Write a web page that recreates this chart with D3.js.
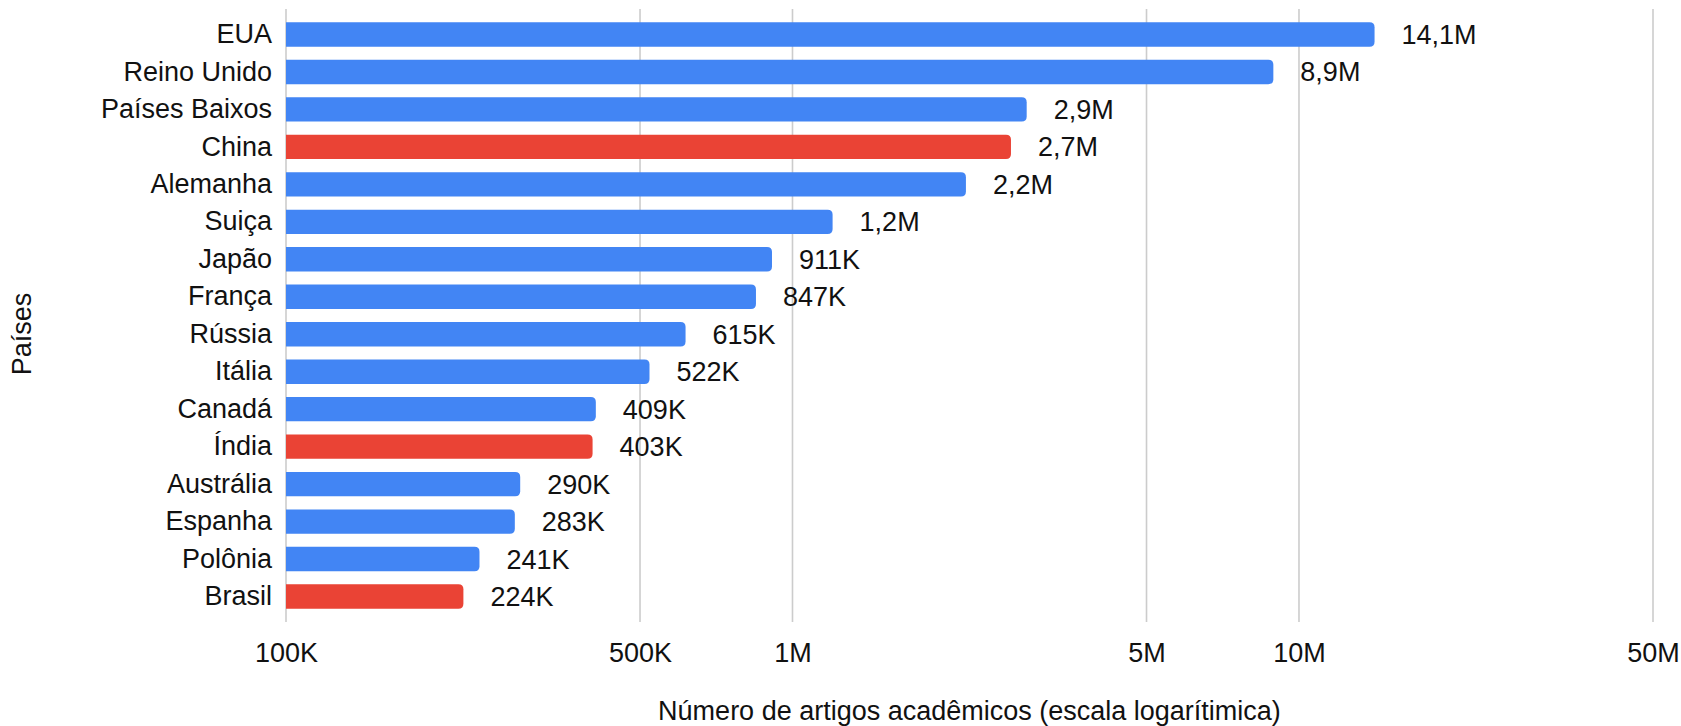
<!DOCTYPE html>
<html>
<head>
<meta charset="utf-8">
<script src="https://cdn.jsdelivr.net/npm/d3@7"></script>
<style>
  body { margin: 0; background: #fff; }
  text { font-family: "Liberation Sans", Arial, sans-serif; fill: #111; }
</style>
</head>
<body>
<div class="chart"></div>
<script>
// dados
const paises = ['EUA', 'Reino Unido', 'Países Baixos', 'China', 'Alemanha', 'Suiça', 'Japão', 'França',
  'Rússia', 'Itália', 'Canadá', 'Índia', 'Austrália', 'Espanha', 'Polônia', 'Brasil'];
const artigos = [14.1e6, 8.9e6, 2.9e6, 2.7e6, 2.2e6, 1.2e6, 911e3, 847e3,
  615e3, 522e3, 409e3, 403e3, 290e3, 283e3, 241e3, 224e3];
const destaque = ['China', 'Índia', 'Brasil'];
const ticks = [1e5, 5e5, 1e6, 5e6, 1e7, 5e7];
const tickLabels = ['100K', '500K', '1M', '5M', '10M', '50M'];

const data = paises.map((p, i) => ({ pais: p, valor: artigos[i] }));

// rótulo no formato 14,1M / 911K
const fmtValor = v => v >= 1e6
  ? (v / 1e6).toFixed(1).replace('.', ',') + 'M'
  : Math.round(v / 1e3) + 'K';

const width = 1681, height = 726;
const margin = { top: 9, right: 28, bottom: 104, left: 286 };
const fonte = '"Liberation Sans", Arial, sans-serif';
const tam = '27px';

const svg = d3.select('.chart').append('svg')
  .attr('width', width).attr('height', height);

const x = d3.scaleLog().domain([1e5, 5e7]).range([margin.left, width - margin.right]);
const y = d3.scaleBand().domain(paises)
  .range([margin.top, height - margin.bottom])
  .paddingInner(0.35).paddingOuter(0.355);

// grade
svg.append('g').selectAll('line')
  .data(ticks).join('line')
  .attr('x1', d => x(d)).attr('x2', d => x(d))
  .attr('y1', margin.top).attr('y2', height - margin.bottom)
  .attr('stroke', '#cccccc').attr('stroke-width', 1.6);

// eixo x
const xAxis = d3.axisBottom(x).tickValues(ticks)
  .tickFormat((d, i) => tickLabels[i]).tickSize(0).tickPadding(0);
const gx = svg.append('g')
  .attr('transform', `translate(0,${height - margin.bottom})`)
  .call(xAxis);
gx.select('.domain').remove();
gx.selectAll('text').attr('dy', null).attr('y', 40)
  .style('font-size', tam).style('font-family', fonte).style('fill', '#111');

// barras com canto direito arredondado
const r = 5;
const barPath = d => {
  const x0 = x(1e5), x1 = x(d.valor), y0 = y(d.pais), h = y.bandwidth();
  return `M${x0},${y0}H${x1 - r}Q${x1},${y0} ${x1},${y0 + r}V${y0 + h - r}Q${x1},${y0 + h} ${x1 - r},${y0 + h}H${x0}Z`;
};
svg.append('g').selectAll('path')
  .data(data).join('path')
  .attr('d', barPath)
  .attr('fill', d => destaque.includes(d.pais) ? '#ea4335' : '#4285f4');

// eixo y
const yAxis = d3.axisLeft(y).tickSize(0).tickPadding(14);
const gy = svg.append('g')
  .attr('transform', `translate(${margin.left},0)`)
  .call(yAxis);
gy.select('.domain').remove();
gy.selectAll('text').style('font-size', tam)
  .style('font-family', fonte).style('fill', '#111');

// rótulos de valor
svg.append('g').selectAll('text')
  .data(data).join('text')
  .attr('x', d => x(d.valor) + 27)
  .attr('y', d => y(d.pais) + y.bandwidth() / 2)
  .attr('dy', '0.35em')
  .style('font-size', tam)
  .text(d => fmtValor(d.valor));

// títulos
svg.append('text')
  .attr('x', (margin.left + width - margin.right) / 2).attr('y', 720)
  .attr('text-anchor', 'middle').style('font-size', tam)
  .text('Número de artigos acadêmicos (escala logarítimica)');

svg.append('text')
  .attr('transform', 'translate(31,334) rotate(-90)')
  .attr('text-anchor', 'middle').style('font-size', tam)
  .text('Países');
</script>
</body>
</html>
